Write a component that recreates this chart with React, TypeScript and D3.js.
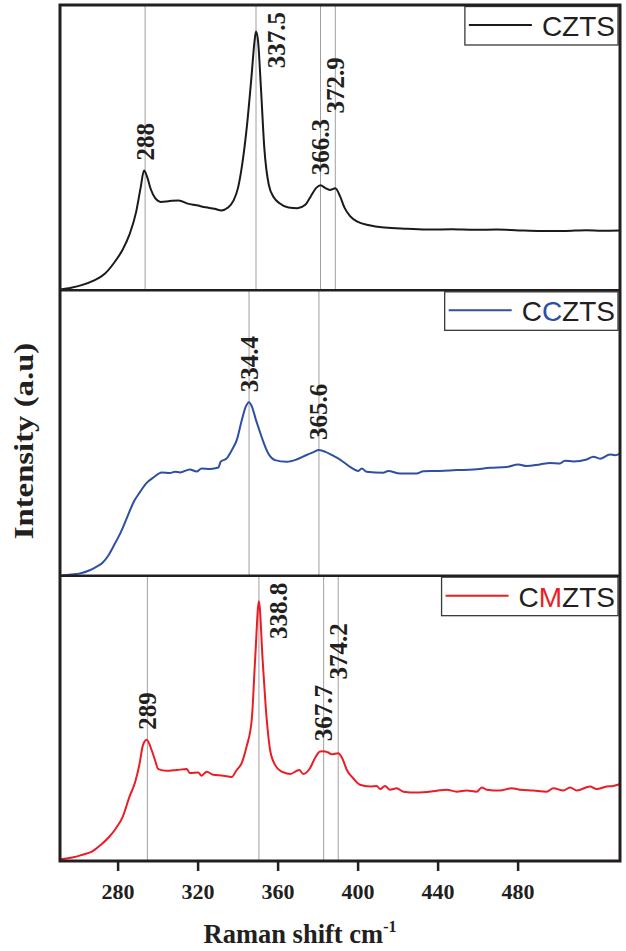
import React, { useEffect, useRef } from 'react';
import * as d3 from 'd3';

const WIDTH = 626;
const HEIGHT = 951;
const LEFT = 60;
const RIGHT = 620;
const TOP = 5;
const BOTTOM = 861;
const SERIF = '"Liberation Serif", "Times New Roman", serif';
const SANS = '"Liberation Sans", Arial, sans-serif';
const INK = '#231f20';

// Raman shift (cm-1) and intensity (a.u., 0-100 of each panel)
const cztsShift = [250, 255, 260, 265, 270, 274, 278, 281, 284, 286, 287.5, 289, 290.5, 292.5, 295, 299, 303, 307, 311, 315, 319, 322, 325, 327.5, 329.5, 331.5, 333.5, 335.5, 336.8, 337.5, 338.4, 339.7, 341.2, 343.2, 345.5, 348, 352, 356, 359.5, 362, 364.5, 366.3, 368.5, 370.5, 372.9, 375, 377, 379.5, 383, 388, 395, 405, 415, 425, 435, 445, 455, 465, 475, 485, 492, 500];
const cztsIntensity = [0.3, 0.9, 1.9, 3.4, 5.8, 9.5, 14.3, 19.5, 27.5, 36, 42, 39.5, 35.5, 32.3, 31, 31.3, 31.5, 30.4, 29.8, 29.1, 28.6, 28, 29, 31.5, 36, 45, 58, 75, 87, 90.7, 87.5, 71, 50, 37, 32.5, 30.5, 29, 28.8, 30, 33, 36, 36.8, 35.8, 35.2, 35.8, 33, 29, 26, 24, 22.8, 22, 21.6, 21.3, 21.4, 21.2, 21.3, 21, 20.8, 20.8, 21.1, 20.9, 21];

const ccztsShift = [250, 255, 259, 263, 266, 269, 271.5, 274, 277, 280, 283, 285.7, 288.7, 291.7, 295.4, 299.1, 301.3, 303.6, 308, 311, 313.2, 317, 320.7, 321.7, 324.4, 326.7, 328.9, 331, 332.8, 334.4, 335.8, 337.5, 339, 340.5, 343, 346, 351.2, 355.6, 360.1, 363, 365.6, 368.5, 371.3, 375, 379.5, 383.2, 384.7, 386.9, 394.3, 396.5, 401.8, 409.2, 412.2, 419.6, 427.1, 434.5, 442, 449.4, 454.6, 458.3, 464.3, 468.8, 473.2, 475.4, 479.2, 485.1, 488.1, 491.1, 495.5, 497.8, 500];
const ccztsIntensity = [0, 0.4, 0.8, 1.8, 3, 4.5, 7, 10.5, 15, 20.5, 26, 29.3, 32.5, 34.4, 36.2, 36, 36.4, 36.2, 37.2, 36.5, 37.6, 37.4, 37.9, 39.9, 41.1, 44, 47.5, 54, 59, 60.8, 59, 54.5, 51, 47.5, 42.8, 40.5, 39.9, 40.7, 42.3, 43.2, 44, 43.4, 42.3, 40.7, 38.1, 36.7, 37.6, 36.4, 36.1, 36.7, 35.8, 35.8, 36.6, 36.7, 37, 37.2, 37.8, 38.1, 39, 38.4, 39, 39.5, 39.3, 40.3, 40, 40.7, 41.7, 41, 42.5, 42.2, 42.8];

const cmztsShift = [250, 253, 256, 260, 264, 268, 272, 275, 278, 281, 283.5, 285.5, 287, 288.7, 290.9, 292.4, 293.9, 297.6, 302.1, 306.6, 308, 311.7, 313.2, 315.5, 318.4, 322.9, 326.6, 328.9, 331.1, 333.3, 335.6, 337.2, 338.8, 340.5, 342.3, 343.8, 346, 349, 352.7, 356.8, 358.6, 361.6, 363.8, 366.1, 367.7, 369.5, 371.3, 374.2, 376, 378, 380.9, 383.9, 388.4, 391.4, 392.9, 395.1, 397.3, 400.3, 403.3, 409.2, 412.2, 418.2, 422.6, 427.1, 431.6, 436, 438.3, 440.5, 446.4, 451.6, 455.4, 461.3, 467.3, 470.2, 474.7, 477.7, 480.7, 486.6, 489.6, 494, 497, 500];
const cmztsIntensity = [0.6, 0.9, 1.3, 2.2, 3.2, 5.5, 8.5, 11.5, 15.5, 22.5, 27.5, 34, 40.5, 42.5, 38.9, 35.4, 32.2, 31.6, 31.9, 32.2, 30.8, 31, 29.9, 31.3, 30.2, 29.9, 29.4, 31.9, 34.3, 40.1, 49.5, 72, 91, 70, 49.5, 38.9, 33.7, 31.3, 30.5, 31.9, 30.5, 32.5, 36, 38.4, 38.5, 38.1, 37.4, 37.8, 36, 32, 29, 26.7, 26.1, 26.3, 25.2, 26.3, 25, 25.5, 24.3, 24, 24.1, 24.6, 25, 24.3, 24.7, 24.3, 25.8, 25, 24.7, 25.5, 25, 24.7, 24.3, 25.5, 24.7, 25.8, 24.7, 26.1, 25.2, 26.1, 26.3, 27];

const cztsPeaks = [288, 337.5, 366.3, 372.9];
const ccztsPeaks = [334.4, 365.6];
const cmztsPeaks = [289, 338.8, 367.7, 374.2];

const xTicks = [280, 320, 360, 400, 440, 480];

type Placement = 'above' | 'right' | 'stack';

const panels = [
  { name: ['CZTS'], accent: '', shift: cztsShift, intensity: cztsIntensity, peaks: cztsPeaks, color: '#1a1a1a', place: ['above', 'right', 'above', 'stack'] as Placement[] },
  { name: ['C', 'C', 'ZTS'], accent: '#2e4fa3', shift: ccztsShift, intensity: ccztsIntensity, peaks: ccztsPeaks, color: '#2e4fa3', place: ['above', 'above'] as Placement[] },
  { name: ['C', 'M', 'ZTS'], accent: '#ed1c24', shift: cmztsShift, intensity: cmztsIntensity, peaks: cmztsPeaks, color: '#ed1c24', place: ['above', 'right', 'above', 'stack'] as Placement[] },
];

const ARIAL_W: Record<string, number> = { C: 0.722, Z: 0.611, T: 0.611, S: 0.667, M: 0.833 };
const LABEL_SIZE = 25;
const LEGEND_SIZE = 28;

const App = () => {
  const axisRef = useRef<SVGGElement>(null);

  const xData = d3.scaleLinear().domain([250, 500]).range([LEFT, RIGHT]);
  // the printed tick labels do not follow the data scale in the source figure
  const xAxisScale = d3.scaleLinear().domain([251.2, 531.2]).range([LEFT, RIGHT]);
  const panelH = (BOTTOM - TOP) / 3;

  useEffect(() => {
    const g = d3.select(axisRef.current);
    g.call(
      d3.axisBottom(xAxisScale).tickValues(xTicks).tickSize(10).tickPadding(12).tickFormat(d3.format('d'))
    );
    g.select('.domain').remove();
    g.selectAll('.tick line').attr('stroke', INK).attr('stroke-width', 2.5);
    g.selectAll('.tick text')
      .attr('font-family', SERIF)
      .attr('font-size', 22)
      .attr('font-weight', 'bold')
      .attr('fill', INK);
  }, []);

  return (
    <svg width={WIDTH} height={HEIGHT} style={{ position: 'absolute', left: 0, top: 0, background: '#fff' }}>
      {panels.map((p, i) => {
        const top = TOP + i * panelH;
        const bottom = top + panelH;
        const y = d3.scaleLinear().domain([0, 100]).range([bottom, top]);
        const line = d3
          .line<number>()
          .x((d, k) => xData(p.shift[k]))
          .y((d) => y(d))
          .curve(d3.curveMonotoneX);

        let prevTop = 0;
        const labels = p.peaks.map((pk, k) => {
          const idx = d3.minIndex(p.shift, (s) => Math.abs(s - pk));
          const len = String(pk).length * 0.47 * LABEL_SIZE;
          const px = xData(pk);
          let lx = px;
          let ly = y(p.intensity[idx]) - 10;
          let anchor = 'start';
          if (p.place[k] === 'right') {
            lx = px + 20;
            ly = top + 7;
            anchor = 'end';
          } else if (p.place[k] === 'stack') {
            ly = prevTop - 3;
          }
          if (anchor === 'start') prevTop = ly - len;
          return (
            <text
              key={pk}
              transform={`translate(${lx},${ly}) rotate(-90)`}
              dy="0.34em"
              textAnchor={anchor}
              fontFamily={SERIF}
              fontWeight="bold"
              fontSize={LABEL_SIZE}
              fill={INK}
            >
              {pk}
            </text>
          );
        });

        const textW = p.name.join('').split('').reduce((a, c) => a + (ARIAL_W[c] || 0.65), 0) * LEGEND_SIZE;
        const textX = 615;
        const lineX1 = textX - textW - 73;
        const boxX = lineX1 - 4;

        return (
          <g key={i}>
            {p.peaks.map((pk) => (
              <line key={pk} x1={xData(pk)} x2={xData(pk)} y1={top} y2={bottom} stroke="#a0a0a0" strokeWidth={1} />
            ))}
            <path d={line(p.intensity) || ''} fill="none" stroke={p.color} strokeWidth={2} strokeLinejoin="round" />
            {labels}
            <rect x={boxX} y={top + 1.5} width={RIGHT - 2 - boxX} height={38.5} fill="#fff" stroke="#3a3a3a" strokeWidth={1.3} />
            <line x1={lineX1} x2={lineX1 + 63} y1={top + 20} y2={top + 20} stroke={p.color} strokeWidth={2} />
            <text x={textX} y={top + 31} textAnchor="end" fontFamily={SANS} fontSize={LEGEND_SIZE} fill={INK}>
              {p.name.map((s, k) => (
                <tspan key={k} fill={k === 1 ? p.accent : INK}>
                  {s}
                </tspan>
              ))}
            </text>
            {i > 0 && <line x1={LEFT} x2={RIGHT} y1={top} y2={top} stroke={INK} strokeWidth={2.5} />}
          </g>
        );
      })}

      <rect x={LEFT} y={TOP} width={RIGHT - LEFT} height={BOTTOM - TOP} fill="none" stroke={INK} strokeWidth={3} />
      <g ref={axisRef} transform={`translate(0,${BOTTOM})`} />

      <text x={300} y={943} textAnchor="middle" fontFamily={SERIF} fontWeight="bold" fontSize={26.5} fill={INK}>
        Raman shift cm
        <tspan fontSize={16} dy={-11}>
          -1
        </tspan>
      </text>
      <text
        transform="translate(33,441) scale(1,1.17) rotate(-90)"
        textAnchor="middle"
        fontFamily={SERIF}
        fontWeight="bold"
        fontSize={28}
        fill={INK}
      >
        Intensity (a.u)
      </text>
    </svg>
  );
};

export default App;
